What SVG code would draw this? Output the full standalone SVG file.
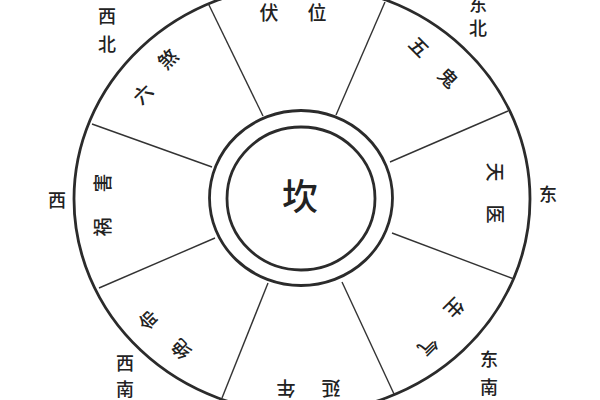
<svg xmlns="http://www.w3.org/2000/svg" width="600" height="400" viewBox="0 0 600 400">
<style>
.ring{fill:none;stroke:#2b2b2b;stroke-width:2.8}
.sp{stroke:#333;stroke-width:1.4;fill:none}
text{font-family:"Noto Sans CJK SC","Noto Sans CJK JP",sans-serif;fill:#222;text-anchor:middle;dominant-baseline:central;font-weight:500}
.d{font-size:18px}
.s{font-size:19px}
.c{font-size:36px}
</style>
<rect width="600" height="400" fill="#fff"/>
<g id="rings">
<ellipse class="ring" cx="302" cy="199" rx="228" ry="214"/>
<ellipse class="ring" cx="301" cy="198" rx="91.5" ry="87.5"/>
<ellipse class="ring" cx="301" cy="198.5" rx="74" ry="71.5"/>
</g>
<g id="connectors">
<line class="sp" x1="263" y1="116" x2="208" y2="3"/>
<line class="sp" x1="212" y1="167" x2="92" y2="124"/>
<line class="sp" x1="215" y1="238" x2="99" y2="288"/>
<line class="sp" x1="268" y1="283" x2="222" y2="398"/>
<line class="sp" x1="342" y1="282" x2="394" y2="394"/>
<line class="sp" x1="392" y1="233" x2="514" y2="279"/>
<line class="sp" x1="390" y1="162" x2="508" y2="111"/>
<line class="sp" x1="336" y1="115" x2="385" y2="2"/>
</g>
<g id="center"><text class="c" x="300" y="194">坎</text></g>
<g id="fuwei"><text class="s" x="269" y="11">伏</text><text class="s" x="317" y="11">位</text></g>
<g id="wugui"><text class="s" transform="translate(420,46) rotate(45)">五</text><text class="s" transform="translate(449,77) rotate(45)">鬼</text></g>
<g id="tianyi"><text class="s" transform="translate(496,172) rotate(90)">天</text><text class="s" transform="translate(496,214) rotate(90)">医</text></g>
<g id="shengqi"><text class="s" transform="translate(455,309) rotate(135)">生</text><text class="s" transform="translate(429,347) rotate(135)">气</text></g>
<g id="yannian"><text class="s" transform="translate(331,389) rotate(180)">延</text><text class="s" transform="translate(286,389) rotate(180)">年</text></g>
<g id="jueming"><text class="s" transform="translate(180,350) rotate(225)">绝</text><text class="s" transform="translate(147,321) rotate(225)">命</text></g>
<g id="huohai"><text class="s" transform="translate(101,227) rotate(270)">祸</text><text class="s" transform="translate(101,183) rotate(270)">害</text></g>
<g id="liusha"><text class="s" transform="translate(142,93) rotate(315)">六</text><text class="s" transform="translate(167,58) rotate(315)">煞</text></g>
<g id="directions">
<text class="d" x="107" y="15">西</text><text class="d" x="107" y="43">北</text>
<text class="d" x="478" y="3">东</text><text class="d" x="478" y="27">北</text>
<text class="d" x="548" y="193">东</text>
<text class="d" x="57" y="199">西</text>
<text class="d" x="125" y="362">西</text><text class="d" x="125" y="388">南</text>
<text class="d" x="489" y="358">东</text><text class="d" x="489" y="386">南</text>
</g>
</svg>
